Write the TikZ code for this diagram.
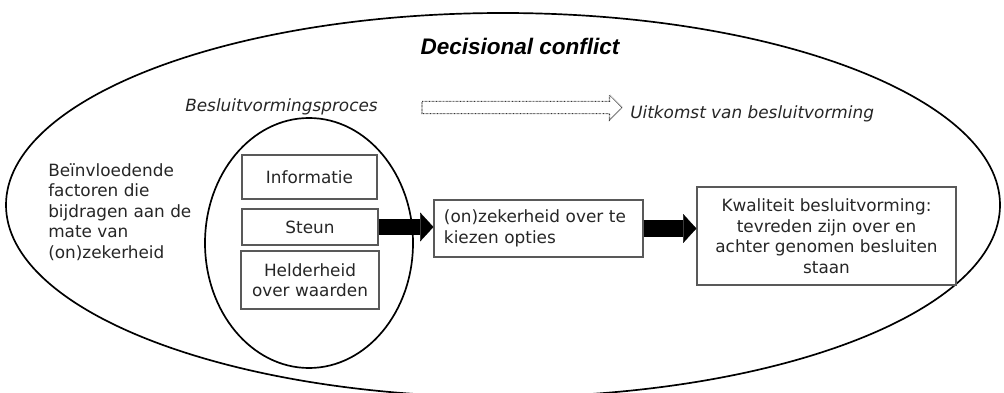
\documentclass[tikz,border=0pt]{standalone}
\usepackage{fontspec}
\setmainfont{DejaVu Sans}
\newfontfamily\titlefont{Liberation Sans}
\usetikzlibrary{arrows.meta,shapes.arrows,positioning}
\tikzset{
  factorbox/.style={draw=black!65, line width=0.8pt, inner sep=0pt, align=center, text=black!85},
  schets/.style={line width=1.2pt},
  blokpijl/.style={line width=#1, -{Triangle[line width=0.2pt, length=3.3mm, width=7.2mm]}},
  stippelpijl/.style={single arrow, draw=black!80, line width=0.75pt, dash pattern=on 0.45pt off 0.55pt,
    inner xsep=0pt, inner ysep=0.1375cm, minimum height=5cm, minimum width=0.6cm,
    single arrow head extend=0.1625cm},
}
\begin{document}
\begin{tikzpicture}[x=0.025cm, y=-0.025cm, font=\fontsize{12}{14.6}\selectfont]
\useasboundingbox (0,0) rectangle (1004,393);
% ovalen
\draw[schets] (503,205) ellipse [x radius=497, y radius=192];
\draw[schets] (309,243) ellipse [x radius=104, y radius=125];

\node[font=\titlefont\fontsize{16}{19}\selectfont\bfseries\itshape] (titel) at (520,46) {Decisional conflict};
\node[anchor=base west, inner sep=0pt, font=\fontsize{12}{14.6}\selectfont\itshape, text=black!85] (proces) at (185,112) {Besluitvormingsproces};
\node[stippelpijl] (overgang) at (519,107.5) {};
\node[anchor=base west, inner sep=0pt, font=\fontsize{12}{14.6}\selectfont\itshape, text=black!85] (uitkomst) at (630,119) {Uitkomst van besluitvorming};

\node[anchor=north west, inner sep=0pt, align=left, text=black!85] (factoren) at (48,163)
  {Beïnvloedende\\factoren die\\bijdragen aan de\\mate van\\(on)zekerheid};

% factoren in het proces
\node[factorbox, minimum width=3.375cm, minimum height=1.1cm] (info) at (309.5,177) {Informatie};
\node[factorbox, minimum width=3.4cm, minimum height=0.9cm] (steun) at (310,227) {Steun};
\node[factorbox, minimum width=3.45cm, minimum height=1.45cm] (helder) at (310,280) {Helderheid\\over waarden};

\node[factorbox, align=left, inner xsep=0.25cm, text width=4.725cm, minimum height=1.425cm] (onzeker) at (538.5,228.5)
  {(on)zekerheid over te\\kiezen opties};
\node[factorbox, minimum width=6.475cm, minimum height=2.45cm] (kwaliteit) at (826.5,236)
  {Kwaliteit besluitvorming:\\tevreden zijn over en\\achter genomen besluiten\\staan};

\draw[blokpijl=3.75mm] (steun.east) -- (onzeker.west |- steun.east);
\draw[blokpijl=4.2mm] (onzeker.east) -- (kwaliteit.west |- onzeker.east);
\end{tikzpicture}
\end{document}
